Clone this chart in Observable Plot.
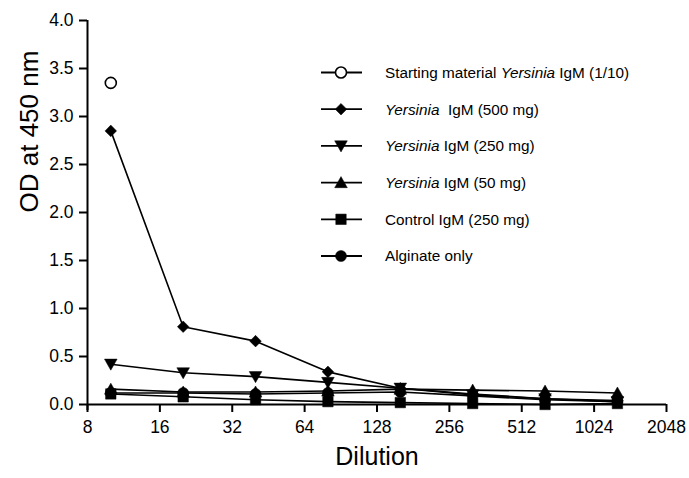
<!DOCTYPE html>
<html>
<head>
<meta charset="utf-8">
<script src="https://cdn.jsdelivr.net/npm/d3@7"></script>
<script src="https://cdn.jsdelivr.net/npm/@observablehq/plot@0.6"></script>
<style>
  html, body { margin: 0; padding: 0; background: #fff; }
  #chart { width: 689px; height: 478px; }
</style>
</head>
<body>
<div id="chart"></div>
<script>
// ---- data ----
const dilutions = [10, 20, 40, 80, 160, 320, 640, 1280];
const startingDilutions = [10];
const startingMaterial = [3.35];
const yersinia500 = [2.85, 0.81, 0.66, 0.34, 0.17, 0.11, 0.06, 0.04];
const yersinia250 = [0.42, 0.33, 0.29, 0.23, 0.17, 0.10, 0.06, 0.03];
const yersinia50  = [0.16, 0.13, 0.13, 0.14, 0.16, 0.15, 0.14, 0.12];
const controlIgM  = [0.11, 0.08, 0.05, 0.03, 0.02, 0.01, 0.00, 0.01];
const alginate    = [0.12, 0.12, 0.11, 0.12, 0.13, 0.09, 0.05, 0.03];
const xTicks = [8, 16, 32, 64, 128, 256, 512, 1024, 2048];
const yTicks = [0, 0.5, 1, 1.5, 2, 2.5, 3, 3.5, 4];
const legendLabels = [
  [["Starting material ", false], ["Yersinia", true], [" IgM (1/10)", false]],
  [["Yersinia", true], ["  IgM (500 mg)", false]],
  [["Yersinia", true], [" IgM (250 mg)", false]],
  [["Yersinia", true], [" IgM (50 mg)", false]],
  [["Control IgM (250 mg)", false]],
  [["Alginate only", false]]
];

// ---- symbols ----
const sym = {
  circle: {draw(c, s) { const r = Math.sqrt(s / Math.PI); c.moveTo(r, 0); c.arc(0, 0, r, 0, 2 * Math.PI); c.closePath(); }},
  diamond: {draw(c, s) { const r = Math.sqrt(s / Math.PI) * 1.05; c.moveTo(0, -r); c.lineTo(r, 0); c.lineTo(0, r); c.lineTo(-r, 0); c.closePath(); }},
  triDown: {draw(c, s) { const r = Math.sqrt(s / Math.PI) * 1.15; c.moveTo(-r, -r * 0.8); c.lineTo(r, -r * 0.8); c.lineTo(0, r * 0.95); c.closePath(); }},
  triUp: {draw(c, s) { const r = Math.sqrt(s / Math.PI) * 1.15; c.moveTo(-r, r * 0.8); c.lineTo(r, r * 0.8); c.lineTo(0, -r * 0.95); c.closePath(); }},
  square: {draw(c, s) { const r = Math.sqrt(s / Math.PI) * 0.95; c.rect(-r, -r, 2 * r, 2 * r); }}
};

const series = [
  {name: "start", xs: startingDilutions, ys: startingMaterial, symbol: sym.circle, fill: "white", r: 5.5},
  {name: "y500", xs: dilutions, ys: yersinia500, symbol: sym.diamond, fill: "black", r: 5.5},
  {name: "y250", xs: dilutions, ys: yersinia250, symbol: sym.triDown, fill: "black", r: 5.5},
  {name: "y50", xs: dilutions, ys: yersinia50, symbol: sym.triUp, fill: "black", r: 5.5},
  {name: "ctrl", xs: dilutions, ys: controlIgM, symbol: sym.square, fill: "black", r: 5.5},
  {name: "alg", xs: dilutions, ys: alginate, symbol: sym.circle, fill: "black", r: 5.5}
];
const rows = series.map(s => s.xs.map((x, i) => ({series: s.name, x, y: s.ys[i]})));

const marks = [];
rows.forEach((data, k) => {
  if (data.length > 1) marks.push(Plot.line(data, {x: "x", y: "y", stroke: "black", strokeWidth: 1.6}));
});
rows.forEach((data, k) => {
  const s = series[k];
  marks.push(Plot.dot(data, {x: "x", y: "y", symbol: s.symbol, r: s.r, fill: s.fill, stroke: "black", strokeWidth: s.fill === "white" ? 1.6 : 0.5}));
});

const chart = Plot.plot({
  width: 689,
  height: 478,
  marginLeft: 87,
  marginRight: 23,
  marginTop: 20,
  marginBottom: 74,
  style: {fontFamily: "'Liberation Sans', Arial, sans-serif", fontSize: "17px", color: "black", background: "white"},
  x: {type: "log", base: 2, domain: [8, 2048]},
  y: {domain: [0, 4]},
  marks: [
    Plot.axisX({ticks: xTicks, tickSize: 8, tickPadding: 8, strokeWidth: 2, tickFormat: d => String(d), label: null, fontSize: 17.5}),
    Plot.axisY({ticks: yTicks, tickSize: 8, tickPadding: 6, strokeWidth: 2, tickFormat: d3.format(".1f"), label: null, fontSize: 17.5}),
    Plot.ruleY([0], {stroke: "black", strokeWidth: 2}),
    Plot.ruleX([8], {stroke: "black", strokeWidth: 2, y1: 4, y2: 0, insetBottom: -6}),
    ...marks,
    Plot.text(["Dilution"], {frameAnchor: "bottom", dy: 60, fontSize: 25, fill: "black"}),
    Plot.text(["OD at 450 nm"], {frameAnchor: "left", dx: -58, rotate: -90, fontSize: 26, fill: "black"})
  ]
});
document.getElementById("chart").appendChild(chart);

// ---- legend ----
const svg = d3.select(chart);
const lg = svg.append("g").attr("font-family", "'Liberation Sans', Arial, sans-serif").attr("font-size", 15.3).attr("text-anchor", "start");
const sx = 321, ex = 362, mx = 341, tx = 385, y0 = 72.5, dyRow = 36.7;
series.forEach((s, i) => {
  const y = y0 + i * dyRow;
  lg.append("line").attr("x1", sx).attr("x2", ex).attr("y1", y).attr("y2", y).attr("stroke", "black").attr("stroke-width", 1.8);
  const path = d3.path();
  s.symbol.draw(path, Math.PI * s.r * s.r);
  lg.append("path").attr("d", path.toString()).attr("transform", `translate(${mx},${y})`)
    .attr("fill", s.fill).attr("stroke", "black").attr("stroke-width", s.fill === "white" ? 1.6 : 0.5);
  const t = lg.append("text").attr("x", tx).attr("y", y).attr("dy", "0.35em").attr("fill", "black").attr("text-anchor", "start").style("white-space", "pre");
  legendLabels[i].forEach(([str, it]) => {
    t.append("tspan").text(str).attr("font-style", it ? "italic" : "normal");
  });
});
</script>
</body>
</html>
